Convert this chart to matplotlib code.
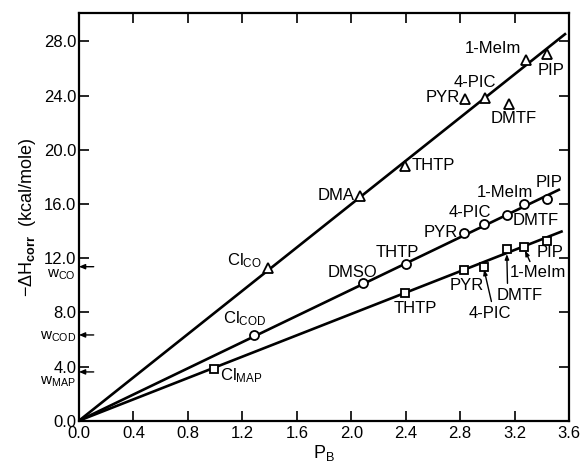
import matplotlib
matplotlib.use('Agg')
import matplotlib.pyplot as plt
from matplotlib.transforms import blended_transform_factory

plt.rcParams['font.family'] = ['Liberation Sans', 'DejaVu Sans']
plt.rcParams['mathtext.fontset'] = 'custom'
plt.rcParams['mathtext.rm'] = 'Liberation Sans'
plt.rcParams['mathtext.it'] = 'Liberation Sans'
plt.rcParams['mathtext.bf'] = 'Liberation Sans:bold'

# ---------------- data ----------------
co_names = ['Cl$_{\\rm CO}$', 'DMA', 'THTP', 'PYR', '4-PIC', 'DMTF', '1-MeIm', 'PIP']
co_x = [1.386, 2.065, 2.395, 2.834, 2.985, 3.160, 3.282, 3.440]
co_y = [11.30, 16.60, 18.83, 23.76, 23.86, 23.39, 26.64, 27.06]

cod_names = ['Cl$_{\\rm COD}$', 'DMSO', 'THTP', 'PYR', '4-PIC', 'DMTF', '1-MeIm', 'PIP']
cod_x = [1.286, 2.087, 2.403, 2.825, 2.978, 3.147, 3.272, 3.436]
cod_y = [6.30, 10.15, 11.57, 13.84, 14.53, 15.20, 16.00, 16.37]

map_names = ['Cl$_{\\rm MAP}$', 'THTP', 'PYR', '4-PIC', 'DMTF', '1-MeIm', 'PIP']
map_x = [0.990, 2.398, 2.831, 2.978, 3.147, 3.270, 3.441]
map_y = [3.80, 9.45, 11.13, 11.37, 12.66, 12.85, 13.30]

# fitted lines through the origin (end points)
line_end_x = [3.578, 3.534, 3.554]
line_end_y = [28.60, 17.09, 14.00]

w_names = ['w$_{\\rm CO}$', 'w$_{\\rm COD}$', 'w$_{\\rm MAP}$']
w_values = [11.37, 6.33, 3.60]

x_ticks = [0.0, 0.4, 0.8, 1.2, 1.6, 2.0, 2.4, 2.8, 3.2, 3.6]
y_ticks = [0.0, 4.0, 8.0, 12.0, 16.0, 20.0, 24.0, 28.0]

# ---------------- layout (label placement) ----------------
co_lab = [(1.216, 11.50, 'center'), (2.028, 16.28, 'right'), (2.444, 18.50, 'left'),
          (2.800, 23.56, 'right'), (2.912, 24.67, 'center'), (3.190, 21.96, 'center'),
          (3.040, 27.13, 'center'), (3.467, 25.53, 'center')]
cod_lab = [(1.220, 7.19, 'center'), (2.006, 10.64, 'center'), (2.336, 12.11, 'center'),
           (2.787, 13.59, 'right'), (2.873, 15.07, 'center'), (3.356, 14.45, 'center'),
           (3.132, 16.54, 'center'), (3.453, 17.28, 'center')]
map_lab = [(1.189, 3.00, 'center'), (2.472, 7.93, 'center'), (2.848, 9.65, 'center'),
           (3.020, 7.56, 'center'), (3.240, 8.91, 'center'), (3.375, 10.64, 'center'),
           (3.460, 12.11, 'center')]
w_lab_y = [10.60, 5.96, 2.64]
# leader lines (tip on marker -> tail near label) for crowded MAP points
leaders = [((2.976, 11.15), (3.030, 8.80)),
           ((3.143, 12.30), (3.148, 10.14)),
           ((3.277, 12.55), (3.313, 11.75))]

fig = plt.figure(figsize=(5.83, 4.65), dpi=100)
ax = fig.add_axes([0.1355, 0.0953, 0.8405, 0.8767])

lw_line = 1.9
for xe, ye in zip(line_end_x, line_end_y):
    ax.plot([0, xe], [0, ye], color='black', lw=lw_line, solid_capstyle='butt', zorder=2)

ax.plot(co_x, co_y, ls='none', marker='^', ms=7.5, mfc='white', mec='black', mew=1.3, zorder=3)
ax.plot(cod_x, cod_y, ls='none', marker='o', ms=6.5, mfc='white', mec='black', mew=1.3, zorder=3)
ax.plot(map_x, map_y, ls='none', marker='s', ms=6, mfc='white', mec='black', mew=1.3, zorder=3)

fs = 12
for names, labs in ((co_names, co_lab), (cod_names, cod_lab), (map_names, map_lab)):
    for n, (tx, ty, ha) in zip(names, labs):
        ax.text(tx, ty, n, fontsize=fs, ha=ha, va='baseline', zorder=4)

for tip, tail in leaders:
    ax.annotate('', xy=tip, xytext=tail,
                arrowprops=dict(arrowstyle='-|>,head_length=0.3,head_width=0.12', lw=1.0, color='black',
                                shrinkA=0, shrinkB=0))

# w markers on the y axis
trans = blended_transform_factory(ax.transAxes, ax.transData)
for n, w, ly in zip(w_names, w_values, w_lab_y):
    ax.annotate('', xy=(0.0, w), xytext=(0.03, w), xycoords=trans, textcoords=trans,
                arrowprops=dict(arrowstyle='-|>,head_length=0.35,head_width=0.15', lw=1.0,
                                color='black', shrinkA=0, shrinkB=0))
    ax.text(-0.006, ly, n, transform=trans, fontsize=11, ha='right', va='baseline')

ax.set_xlim(0, 3.6)
ax.set_ylim(0, 30.1)
ax.set_xticks(x_ticks)
ax.set_yticks(y_ticks)
ax.set_xticklabels(['%.1f' % v for v in x_ticks])
ax.set_yticklabels(['%.1f' % v for v in y_ticks])
ax.tick_params(direction='in', length=7, width=1.2, top=True, right=True,
               labelsize=12)
ax.tick_params(axis='y', pad=2)
ax.tick_params(axis='x', pad=4)
for sp in ax.spines.values():
    sp.set_linewidth(1.6)

ax.set_xlabel('P$_{\\rm B}$', fontsize=13, labelpad=1)
ax.set_ylabel('$-\\Delta H_{\\mathbf{corr}}$  (kcal/mole)', fontsize=13, labelpad=4)

fig.savefig('out.png', dpi=100)
